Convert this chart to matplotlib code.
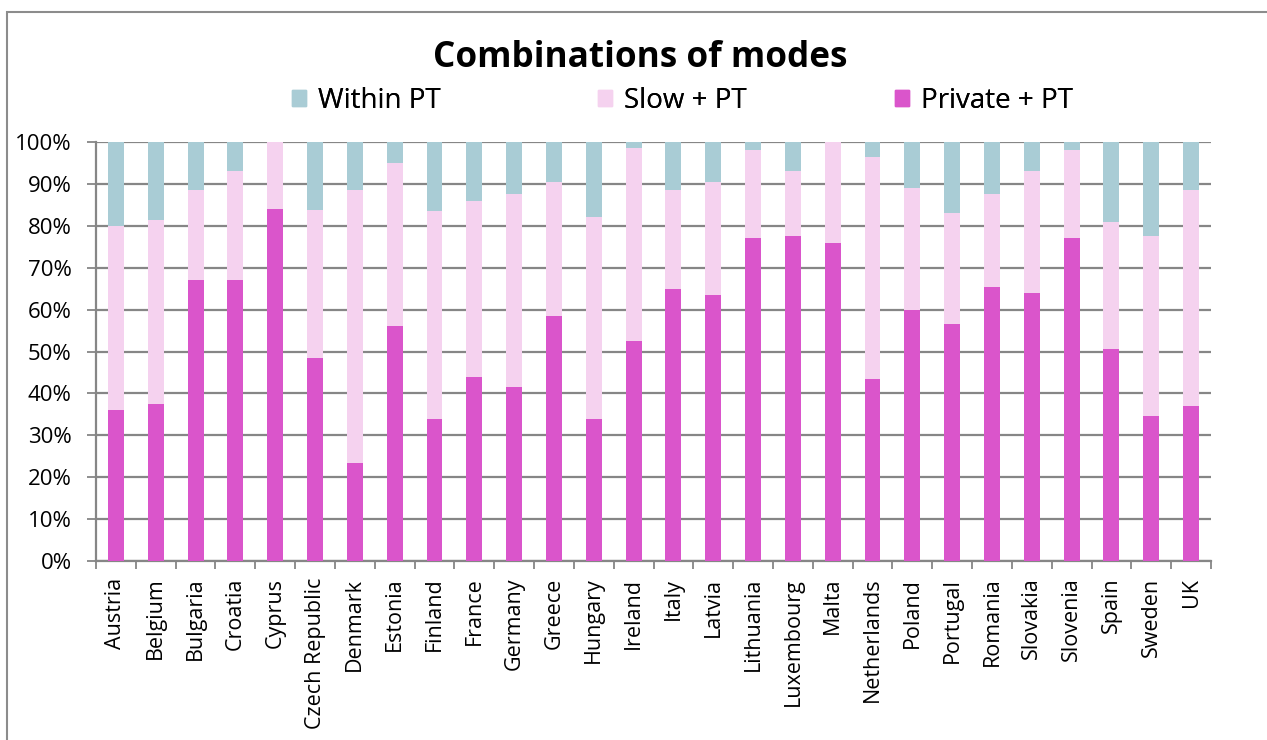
import matplotlib
matplotlib.use("Agg")
import matplotlib.pyplot as plt
from matplotlib.patches import Rectangle
from matplotlib.ticker import FixedLocator, FuncFormatter
import numpy as np

countries = ["Austria", "Belgium", "Bulgaria", "Croatia", "Cyprus", "Czech Republic",
             "Denmark", "Estonia", "Finland", "France", "Germany", "Greece", "Hungary",
             "Ireland", "Italy", "Latvia", "Lithuania", "Luxembourg", "Malta",
             "Netherlands", "Poland", "Portugal", "Romania", "Slovakia", "Slovenia",
             "Spain", "Sweden", "UK"]
private_pt = [36.0, 37.5, 67.0, 67.0, 84.0, 48.5, 23.5, 56.0, 34.0, 44.0, 41.5, 58.5, 34.0,
              52.5, 65.0, 63.5, 77.0, 77.5, 76.0, 43.5, 60.0, 56.5, 65.5, 64.0, 77.0,
              50.5, 34.5, 37.0]
slow_pt = [44.0, 44.0, 21.5, 26.0, 16.0, 35.2, 65.0, 39.0, 49.5, 42.0, 46.0, 32.0, 48.0,
           46.0, 23.5, 27.0, 21.0, 15.5, 24.0, 53.0, 29.0, 26.5, 22.0, 29.0, 21.0,
           30.5, 43.0, 51.5]
within_pt = [20.0, 18.5, 11.5, 7.0, 0.0, 16.3, 11.5, 5.0, 16.5, 14.0, 12.5, 9.5, 18.0,
             1.5, 11.5, 9.5, 2.0, 7.0, 0.0, 3.5, 11.0, 17.0, 12.5, 7.0, 2.0,
             19.0, 22.5, 11.5]
yticks = [0, 10, 20, 30, 40, 50, 60, 70, 80, 90, 100]

c_private = "#DA55CB"
c_slow = "#F5D2EF"
c_within = "#A9CCD5"
grid_c = "#868686"

FONT = ["Open Sans", "DejaVu Sans"]
plt.rcParams["font.family"] = FONT

W, H = 1267, 740
fig = plt.figure(figsize=(W / 100, H / 100), dpi=100)
fig.patch.set_facecolor("white")

ax = fig.add_axes([96 / W, 1 - 561 / H, (1211 - 96) / W, (561 - 142) / H])
x = np.arange(len(countries))
p = np.array(private_pt)
s = np.array(slow_pt)
w = np.array(within_pt)
bw = 0.4
ax.bar(x, p, bw, color=c_private, zorder=3)
ax.bar(x, s, bw, bottom=p, color=c_slow, zorder=3)
ax.bar(x, w, bw, bottom=p + s, color=c_within, zorder=3)

ax.set_xlim(-0.5, len(countries) - 0.5)
ax.set_ylim(0, 100)
ax.yaxis.set_major_locator(FixedLocator(yticks))
ax.yaxis.set_major_formatter(FuncFormatter(lambda v, _: f"{int(v)}%"))
ax.grid(axis="y", color=grid_c, linewidth=1.6, zorder=0)
ax.set_axisbelow(True)

ax.set_xticks(x)
ax.set_xticklabels(countries, rotation=90, fontsize=15.5)
ax.xaxis.set_minor_locator(FixedLocator(np.arange(-0.5, len(countries), 1)))
ax.tick_params(axis="x", which="major", length=0, pad=12)
ax.tick_params(axis="x", which="minor", length=6, width=1.3, color=grid_c)
ax.tick_params(axis="y", length=6.5, width=1.3, color=grid_c, labelsize=16, pad=11)
for sp in ["top", "right"]:
    ax.spines[sp].set_visible(False)
for sp in ["left", "bottom"]:
    ax.spines[sp].set_color(grid_c)
    ax.spines[sp].set_linewidth(1.6)

fig.text(640 / W, 1 - 58 / H, "Combinations of modes", ha="center", va="center",
         fontsize=25.3, fontweight="bold")

labels = ["Within PT", "Slow + PT", "Private + PT"]
colors = [c_within, c_slow, c_private]
lx = [292, 598, 895]
for lab, col, xx in zip(labels, colors, lx):
    leg = fig.legend(handles=[Rectangle((0, 0), 1, 1, color=col)], labels=[lab],
                     loc="center left", bbox_to_anchor=(xx / W, 1 - 101 / H),
                     frameon=False, fontsize=20, handlelength=0.52, handleheight=0.52,
                     handletextpad=0.43, borderpad=0, borderaxespad=0)
    fig.add_artist(leg)

frame = Rectangle((7 / W, -0.1), 1.2, 1.1 - 12 / H + 0.0, transform=fig.transFigure,
                  fill=False, edgecolor="#8c8c8c", linewidth=1.5)
fig.patches.append(frame)

fig.savefig("out.png", dpi=100)
